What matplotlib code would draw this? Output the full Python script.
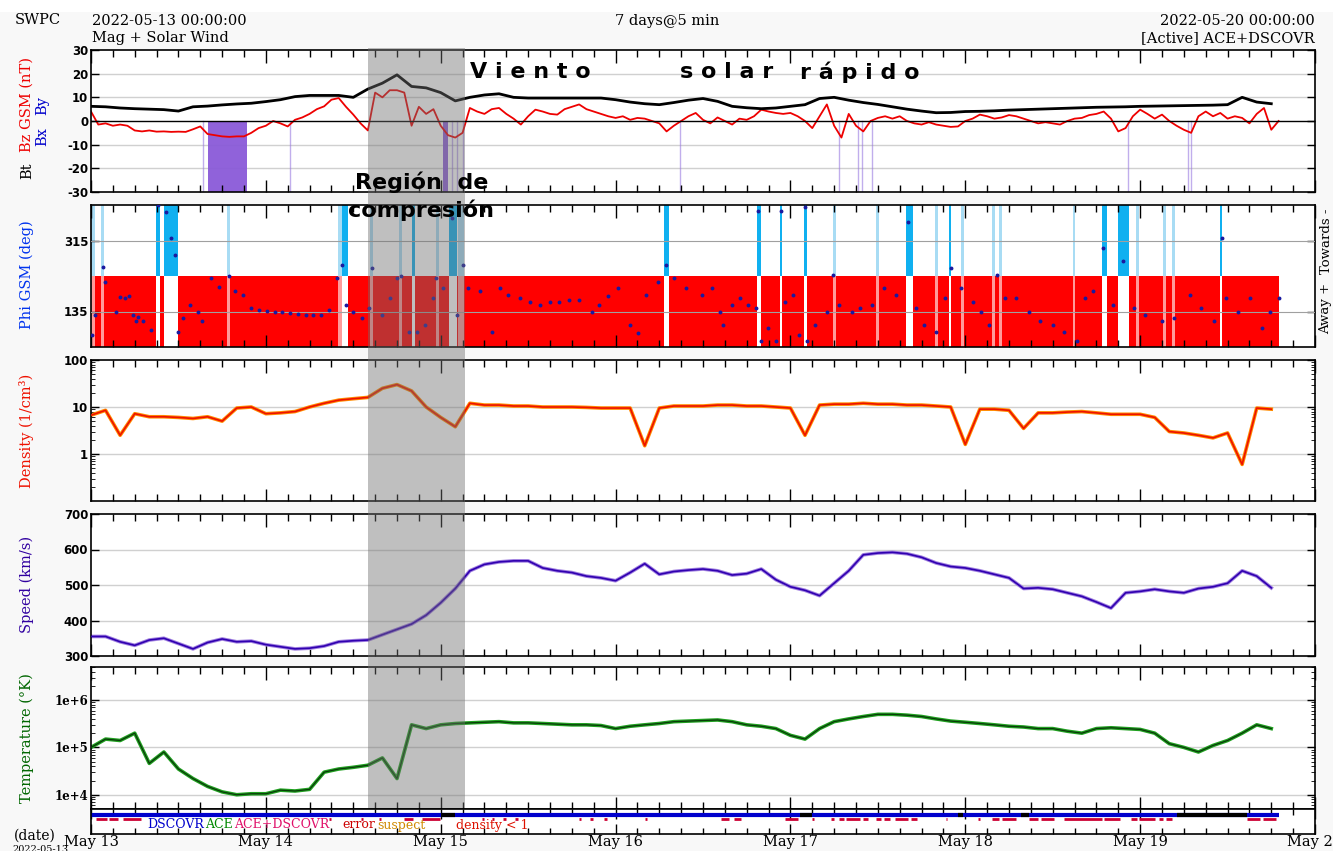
import numpy as np
import matplotlib.pyplot as plt
import matplotlib.transforms as mtransforms
from matplotlib.patches import Rectangle
from matplotlib.ticker import MultipleLocator, FixedLocator, FixedFormatter, NullFormatter, LogLocator

plt.rcParams['font.family'] = 'DejaVu Serif'
plt.rcParams['axes.unicode_minus'] = False

# horas desde 2022-05-13 00:00 UTC
horas2 = np.arange(0, 164, 2)
horas1 = np.arange(0, 164)

bt = [6.2, 6.0, 5.5, 5.2, 5.0, 4.8, 4.2, 6.0, 6.3, 6.8,
      7.2, 7.5, 8.2, 9.0, 10.3, 10.8, 10.8, 10.8, 10.0, 13.5,
      16.0, 19.5, 14.6, 14.0, 12.0, 8.5, 10.0, 11.0, 11.5, 10.0,
      9.7, 9.7, 9.7, 9.7, 9.7, 9.7, 9.0, 8.0, 7.3, 6.9,
      7.8, 8.8, 9.5, 8.3, 6.2, 5.6, 5.2, 5.5, 6.2, 6.9,
      9.5, 10.0, 8.8, 7.8, 7.0, 6.0, 5.0, 4.2, 3.5, 3.6,
      4.0, 4.1, 4.3, 4.6, 4.8, 5.0, 5.2, 5.4, 5.6, 5.8,
      5.9, 6.0, 6.2, 6.3, 6.4, 6.5, 6.6, 6.7, 6.9, 10.0,
      8.0, 7.3]

bz = [4, -1.5, -1, -2, -1.5, -2, -4, -4.4, -4, -4.5,
      -4.4, -4.6, -4.5, -4.6, -3.5, -2.3, -5.5, -6, -6.5, -6.7,
      -6.5, -6.5, -5, -3, -2, 0, -1, -2.3, 0.5, 1.5,
      3, 5, 6.2, 9, 9.7, 6, 2.7, -1, -4, 12,
      10, 13, 13, 12, -2, 6, 3, 5, -2, -6,
      -7, -5, 5.5, 4, 3, 5, 5.5, 3, 1, -1.5,
      2, 4.8, 4, 3, 2.7, 5, 6, 7, 5, 4,
      3, 2, 1.3, 2, 0.5, 1.3, 1, 0, -1, -4.4,
      -2, 0, 2, 3.4, 0.5, -1, 1.5, 0, -1.5, 1,
      0.5, 2, 4.8, 4, 3.4, 3, 3.4, 2, 0, -3,
      2, 7, -2, -7, 3, -2, -4.4, 0, 1.3, 2,
      1, 2, 0, -1, -1.5, -0.5, -1.5, -2, -2.5, -2.3,
      0, 1, 2.7, 2, 1, 1.5, 2.5, 2, 1, 0,
      -1, -0.5, -1, -1.5, 0, 1, 1.3, 2.5, 3, 4,
      1, -4.4, -3, 2, 4.8, 3, 1, 2.7, 0, -2,
      -3.7, -5, 2, 4, 2, 3.4, 1, 2, 1.3, -1,
      3, 5.5, -3.7, 0]

# intervalos Bz sur (morado)
bz_sur = [(16.0, 21.4), (48.3, 49.0)]
bz_sur_fino = [15.4, 27.3, 49.6, 50.3, 51.0, 80.8, 102.6, 105.3, 105.8, 107.2, 142.3, 150.5, 151.0]

phi_h = [0.2, 0.6, 1.6, 1.9, 3.4, 4.0, 4.6, 5.2, 5.8, 6.2,
         6.5, 7.2, 8.3, 9.2, 10.3, 11.0, 11.5, 12.0, 12.6, 13.6,
         14.7, 15.2, 16.5, 17.6, 18.9, 19.7, 20.8, 21.9, 23.0, 24.1,
         25.2, 26.2, 27.3, 28.4, 29.5, 30.5, 31.6, 32.7, 33.8, 34.4,
         35.0, 36.0, 37.2, 38.2, 38.5, 39.9, 41.0, 42.0, 42.5, 43.6,
         44.7, 45.8, 46.9, 47.4, 48.3, 49.6, 50.2, 51.0, 51.8, 53.4,
         55.0, 56.2, 57.3, 58.9, 60.2, 61.6, 63.0, 64.3, 65.6, 67.0,
         68.7, 69.7, 71.0, 72.4, 74.0, 75.1, 76.2, 77.8, 78.9, 80.0,
         81.7, 83.8, 85.2, 86.3, 86.8, 88.0, 89.1, 90.2, 91.3, 91.6,
         92.0, 92.9, 94.0, 94.7, 95.3, 96.4, 97.2, 98.0, 98.3, 99.4,
         101.0, 101.9, 102.7, 104.4, 105.5, 107.2, 108.8, 110.5, 112.2, 113.3,
         114.4, 116.0, 117.2, 118.0, 119.4, 121.0, 122.1, 123.2, 124.3, 125.4,
         127.0, 128.7, 130.3, 132.0, 133.6, 135.3, 136.4, 137.5, 138.9, 140.3,
         141.7, 143.1, 144.7, 147.0, 148.6, 150.8, 152.4, 154.1, 155.2, 155.8,
         157.4, 159.1, 160.7, 161.8, 163.0]
phi_v = [76, 127, 249, 211, 135, 173, 170, 175, 127, 110,
         120, 110, 89, 405, 388, 321, 279, 84, 118, 152,
         135, 110, 220, 198, 224, 186, 177, 143, 139, 137,
         135, 133, 131, 129, 127, 126, 127, 139, 220, 253,
         152, 135, 118, 143, 245, 127, 169, 220, 224, 84,
         84, 101, 169, 220, 194, 372, 127, 253, 194, 186,
         84, 194, 177, 169, 160, 152, 158, 160, 163, 165,
         135, 152, 175, 194, 101, 80, 177, 211, 253, 220,
         194, 177, 194, 135, 101, 152, 169, 152, 143, 389,
         59, 93, 59, 389, 160, 177, 76, 401, 59, 101,
         135, 228, 152, 135, 143, 152, 194, 177, 363, 143,
         101, 84, 169, 245, 194, 160, 135, 101, 228, 169,
         169, 135, 110, 101, 84, 59, 169, 186, 296, 152,
         262, 143, 127, 110, 118, 177, 143, 110, 321, 169,
         135, 169, 93, 135, 169]

# sector hacia el sol (towards)
hacia = [(8.9, 9.5), (10.0, 12.0), (34.4, 35.3), (44.0, 44.5), (49.1, 50.2), (78.6, 79.4),
         (91.4, 91.9), (94.5, 94.9), (97.8, 98.3), (111.8, 112.8), (117.7, 118.1),
         (138.7, 139.5), (141.0, 142.5), (154.9, 155.3)]
hacia_claro = [(0.0, 0.5), (1.4, 1.8), (18.7, 19.1), (33.9, 34.4), (38.3, 38.7), (42.3, 42.7),
               (47.4, 47.8), (50.4, 51.2), (101.8, 102.2), (107.8, 108.2), (115.8, 116.2),
               (119.4, 119.8), (123.7, 124.1), (124.6, 125.0), (134.8, 135.1), (143.4, 143.8),
               (147.1, 147.5), (148.4, 148.8)]

densidad = [6.7, 8.5, 2.5, 7.2, 6.2, 6.2, 6.0, 5.7, 6.2, 5.0,
            9.5, 10, 7.2, 7.5, 8, 10, 12, 14, 15, 16,
            25, 30, 22, 10, 6, 3.8, 12, 11, 11, 10.5,
            10.5, 10, 10, 10, 9.8, 9.5, 9.5, 9.5, 1.5, 9.5,
            10.5, 10.5, 10.5, 11, 11, 10.5, 10.5, 10, 9.5, 2.5,
            11, 11.5, 11.5, 12, 11.5, 11.5, 11, 11, 10.5, 10,
            1.6, 9, 9, 8.5, 3.5, 7.5, 7.5, 7.8, 8, 7.5,
            7, 7, 7, 6, 3, 2.8, 2.5, 2.2, 2.8, 0.6,
            9.5, 9]

velocidad = [355, 355, 340, 330, 345, 350, 335, 320, 338, 348,
             340, 342, 332, 326, 320, 322, 328, 340, 343, 345,
             360, 375, 390, 415, 450, 490, 540, 558, 565, 568,
             568, 548, 540, 535, 525, 520, 512, 535, 560, 530,
             538, 542, 545, 540, 528, 532, 545, 515, 495, 485,
             470, 505, 540, 585, 590, 592, 588, 578, 562, 552,
             548, 540, 530, 520, 490, 492, 488, 478, 468, 452,
             435, 478, 482, 488, 482, 478, 490, 495, 505, 540,
             525, 492]

temperatura = [1e5, 1.5e5, 1.4e5, 2e5, 4.6e4, 8e4, 3.5e4, 2.2e4, 1.5e4, 1.15e4,
               1.0e4, 1.05e4, 1.05e4, 1.25e4, 1.2e4, 1.3e4, 3e4, 3.5e4, 3.8e4, 4.2e4,
               6e4, 2.2e4, 3e5, 2.5e5, 3e5, 3.2e5, 3.3e5, 3.4e5, 3.5e5, 3.3e5,
               3.3e5, 3.2e5, 3.1e5, 3e5, 3e5, 2.9e5, 2.5e5, 2.8e5, 3e5, 3.2e5,
               3.5e5, 3.6e5, 3.7e5, 3.8e5, 3.5e5, 3e5, 2.8e5, 2.5e5, 1.8e5, 1.5e5,
               2.5e5, 3.5e5, 4e5, 4.5e5, 5e5, 5e5, 4.8e5, 4.5e5, 4e5, 3.6e5,
               3.4e5, 3.2e5, 3e5, 2.8e5, 2.7e5, 2.5e5, 2.5e5, 2.2e5, 2e5, 2.5e5,
               2.6e5, 2.5e5, 2.4e5, 2e5, 1.2e5, 1e5, 8e4, 1.1e5, 1.4e5, 2e5,
               3e5, 2.5e5]

# fuente de datos
fin_datos = 163.0
tramos_negros = [(48.0, 50.0), (97.3, 99.0), (119.0, 119.7), (127.7, 128.7), (149.0, 158.6)]
tramos_rojos = [(0.7, 2.2), (2.5, 3.7), (4.4, 6.8), (32.7, 33.0), (37.1, 37.4), (39.5, 39.8),
                (42.9, 44.2), (45.4, 47.9), (53.6, 53.9), (55.0, 55.3), (56.5, 57.0), (58.2, 58.6),
                (67.0, 67.3), (68.5, 68.9), (70.4, 70.8), (76.0, 76.3), (86.5, 87.6), (88.2, 89.2),
                (95.2, 97.0), (99.0, 99.2), (101.5, 102.0), (102.6, 103.3), (103.6, 105.5),
                (105.9, 106.6), (107.7, 108.4), (108.9, 109.6), (110.4, 112.2), (112.6, 113.4),
                (117.3, 117.5), (121.8, 122.0), (123.6, 124.6), (125.0, 126.9), (128.7, 130.0),
                (130.4, 132.2), (133.5, 138.8), (139.1, 141.2), (142.7, 143.5), (143.8, 146.0),
                (146.6, 147.2), (147.6, 148.4), (158.6, 160.5), (160.9, 162.7)]

dias = ['May 13', 'May 14', 'May 15', 'May 16', 'May 17', 'May 18', 'May 19', 'May 20']

W, H = 1333, 851
fig = plt.figure(figsize=(W / 100, H / 100), dpi=100, facecolor='#f8f8f8')


def px(x):
    return x / W


def py(y):
    return 1 - y / H


def caja(top, bottom):
    return [px(91), py(bottom), px(1315 - 91), (bottom - top) / H]


# banda blanca arriba
fig.add_artist(Rectangle((0, py(12)), 1, 12 / H, transform=fig.transFigure,
                         facecolor='white', edgecolor='none', zorder=-1))

ax1 = fig.add_axes(caja(50, 192))
ax2 = fig.add_axes(caja(205, 347))
ax3 = fig.add_axes(caja(360, 501))
ax4 = fig.add_axes(caja(514, 656))
ax5 = fig.add_axes(caja(667, 809))
ax6 = fig.add_axes(caja(809, 834))

tick_font = dict(family='DejaVu Sans', weight='bold', size=8.5)
for ax in [ax1, ax2, ax3, ax4, ax5, ax6]:
    ax.set_xlim(0, 168)
    ax.xaxis.set_major_locator(MultipleLocator(24))
    ax.xaxis.set_minor_locator(MultipleLocator(3))
    ax.tick_params(axis='both', which='both', direction='in', top=True, right=True, color='black')
    ax.tick_params(axis='x', which='major', length=9, width=1)
    ax.tick_params(axis='x', which='minor', length=5, width=1)
    ax.tick_params(axis='y', which='major', length=6, width=1, pad=2)
    ax.tick_params(axis='y', which='minor', length=3)
    for s in ax.spines.values():
        s.set_linewidth(1.2)
    if ax is not ax6:
        ax.tick_params(axis='x', labelbottom=False)

grid_kw = dict(color='#d0d0d0', lw=1, zorder=0)

# panel 1: Bt / Bz
ax1.set_ylim(-30, 30)
ax1.set_yticks([-30, -20, -10, 0, 10, 20, 30])
for v in [-20, -10, 10, 20]:
    ax1.axhline(v, **grid_kw)
for a, b in bz_sur:
    ax1.axvspan(a, b, ymin=0, ymax=0.5, color='#8a5ad8', alpha=0.95, lw=0, zorder=1)
for a in bz_sur_fino:
    ax1.axvline(a, ymin=0, ymax=0.5, color='#9878e0', lw=1.0, alpha=0.6, zorder=1)
ax1.plot(horas1, bz, color='#ee0000', lw=1.3, zorder=2)
ax1.plot(horas2, bt, color='black', lw=2.0, zorder=3)
ax1.axhline(0, color='black', lw=1, zorder=4)

# panel 2: Phi
ax2.set_ylim(45, 405)
ax2.set_yticks([135, 315])
for v in [135, 315]:
    ax2.axhline(v, color='#a0a0a0', lw=0.8, zorder=3)
ax2.fill_between([0, fin_datos], 45, 225, color='#ff0000', lw=0, zorder=1)
for a, b in hacia:
    ax2.axvspan(a, b, ymin=0, ymax=0.5, color='white', lw=0, zorder=1.5)
    ax2.axvspan(a, b, ymin=0.5, ymax=1, color='#10b0f0', lw=0, zorder=1.5)
for a, b in hacia_claro:
    ax2.axvspan(a, b, ymin=0, ymax=0.5, color='#ff9a9a', lw=0, zorder=1.5)
    ax2.axvspan(a, b, ymin=0.5, ymax=1, color='#a8dcf4', lw=0, zorder=1.5)
ax2.plot(phi_h, phi_v, 'o', color='#1a1aa0', ms=1.8, zorder=4)

# panel 3: densidad
ax3.set_yscale('log')
ax3.set_ylim(0.1, 100)
ax3.yaxis.set_major_locator(FixedLocator([1, 10, 100]))
ax3.yaxis.set_major_formatter(FixedFormatter(['1', '10', '100']))
ax3.yaxis.set_minor_locator(LogLocator(base=10, subs=np.arange(2, 10)))
ax3.yaxis.set_minor_formatter(NullFormatter())
for v in [1, 10]:
    ax3.axhline(v, **grid_kw)
ax3.plot(horas2, densidad, color='#ff8c00', lw=2.6, zorder=2)
ax3.plot(horas2, densidad, color='#ee1100', lw=1.2, zorder=3)

# panel 4: velocidad
ax4.set_ylim(300, 700)
ax4.set_yticks([300, 400, 500, 600, 700])
for v in [400, 500, 600]:
    ax4.axhline(v, **grid_kw)
ax4.plot(horas2, velocidad, color='#a080e0', lw=2.6, zorder=2)
ax4.plot(horas2, velocidad, color='#3000b0', lw=1.2, zorder=3)

# panel 5: temperatura
ax5.set_yscale('log')
ax5.set_ylim(5e3, 5e6)
ax5.yaxis.set_major_locator(FixedLocator([1e4, 1e5, 1e6]))
ax5.yaxis.set_major_formatter(FixedFormatter(['1e+4', '1e+5', '1e+6']))
ax5.yaxis.set_minor_locator(LogLocator(base=10, subs=np.arange(2, 10)))
ax5.yaxis.set_minor_formatter(NullFormatter())
for v in [1e4, 1e5, 1e6]:
    ax5.axhline(v, **grid_kw)
ax5.plot(horas2, temperatura, color='#20a020', lw=2.6, zorder=2)
ax5.plot(horas2, temperatura, color='#0a3a0a', lw=0.9, zorder=3)

for ax in [ax1, ax2, ax3, ax4]:
    for lab in ax.get_yticklabels():
        lab.set_fontproperties(tick_font)
for lab in ax5.get_yticklabels():
    lab.set_fontproperties(dict(family='DejaVu Serif', weight='bold', size=8.5))

# panel 6: fuente
ax6.set_ylim(0, 1)
ax6.set_yticks([])
ax6.hlines(0.78, 0, fin_datos, color='#0000cc', lw=3)
for a, b in tramos_negros:
    ax6.hlines(0.78, a, b, color='black', lw=3)
for a, b in tramos_rojos:
    ax6.hlines(0.6, a, b, color='#cc0033', lw=2)
ax6.set_xticks(np.arange(0, 169, 24))
ax6.set_xticklabels(dias, fontsize=10.5)
ax6.tick_params(axis='x', which='major', pad=1, length=7)
ax6.tick_params(axis='x', which='minor', length=4)

leyenda = [('DSCOVR', '#0000cc', 147), ('ACE', '#008800', 205), ('ACE+DSCOVR', '#e0106a', 234),
           ('error', '#cc0000', 342), ('suspect', '#d08a00', 377), ('density < 1', '#dd1100', 456)]
for txt, col, x in leyenda:
    fig.text(px(x), py(825), txt, color=col, fontsize=9, va='center', ha='left')

# franja gris
trans = mtransforms.blended_transform_factory(ax1.transData, fig.transFigure)
fig.add_artist(Rectangle((38.0, py(808)), 13.4, py(48) - py(808), transform=trans,
                         facecolor='#6e6e6e', alpha=0.44, edgecolor='none', zorder=5))

# encabezado
fig.text(px(15), py(20), 'SWPC', fontsize=10.5, va='center')
fig.text(px(92), py(21), '2022-05-13 00:00:00', fontsize=10.5, va='center')
fig.text(px(92), py(38), 'Mag + Solar Wind', fontsize=10.5, va='center')
fig.text(px(667), py(21), '7 days@5 min', fontsize=10.5, va='center', ha='center')
fig.text(px(1315), py(21), '2022-05-20 00:00:00', fontsize=10.5, va='center', ha='right')
fig.text(px(1315), py(38), '[Active] ACE+DSCOVR', fontsize=10.5, va='center', ha='right')

# etiquetas de ejes
lab_kw = dict(rotation=90, va='center', ha='center', fontsize=10.5)
fig.text(px(27), py(104), 'Bz GSM (nT)', color='#ee0000', **lab_kw)
fig.text(px(27), py(171), 'Bt', color='black', **lab_kw)
fig.text(px(42), py(106), 'By', color='#0000cc', **lab_kw)
fig.text(px(42), py(137), 'Bx', color='#0000cc', **lab_kw)
fig.text(px(27), py(275), 'Phi GSM (deg)', color='#0033ee', **lab_kw)
fig.text(px(27), py(431), 'Density (1/cm³)', color='#ee1100', **lab_kw)
fig.text(px(27), py(584), 'Speed (km/s)', color='#3000a0', **lab_kw)
fig.text(px(27), py(738), 'Temperature (°K)', color='#006600', **lab_kw)
fig.text(px(1326), py(241), 'Towards -', rotation=90, va='center', ha='center', fontsize=9.5)
fig.text(px(1326), py(308), 'Away +', rotation=90, va='center', ha='center', fontsize=9.5)
fig.text(px(14), py(836), '(date)', fontsize=10, va='center')
fig.text(px(12), py(845), '2022-05-13', fontsize=7, va='top')

# anotaciones
ann = dict(family='DejaVu Sans', weight='bold', fontsize=16, color='black', va='center', zorder=6)
fig.text(px(470), py(72), 'V i e n t o', **ann)
fig.text(px(680), py(72), 's o l a r', **ann)
fig.text(px(800), py(72), 'r á p i d o', **ann)
fig.text(px(355), py(182), 'Región  de', **ann)
fig.text(px(348), py(210), 'compresión', **ann)

fig.savefig('out.png', dpi=100, facecolor=fig.get_facecolor())
